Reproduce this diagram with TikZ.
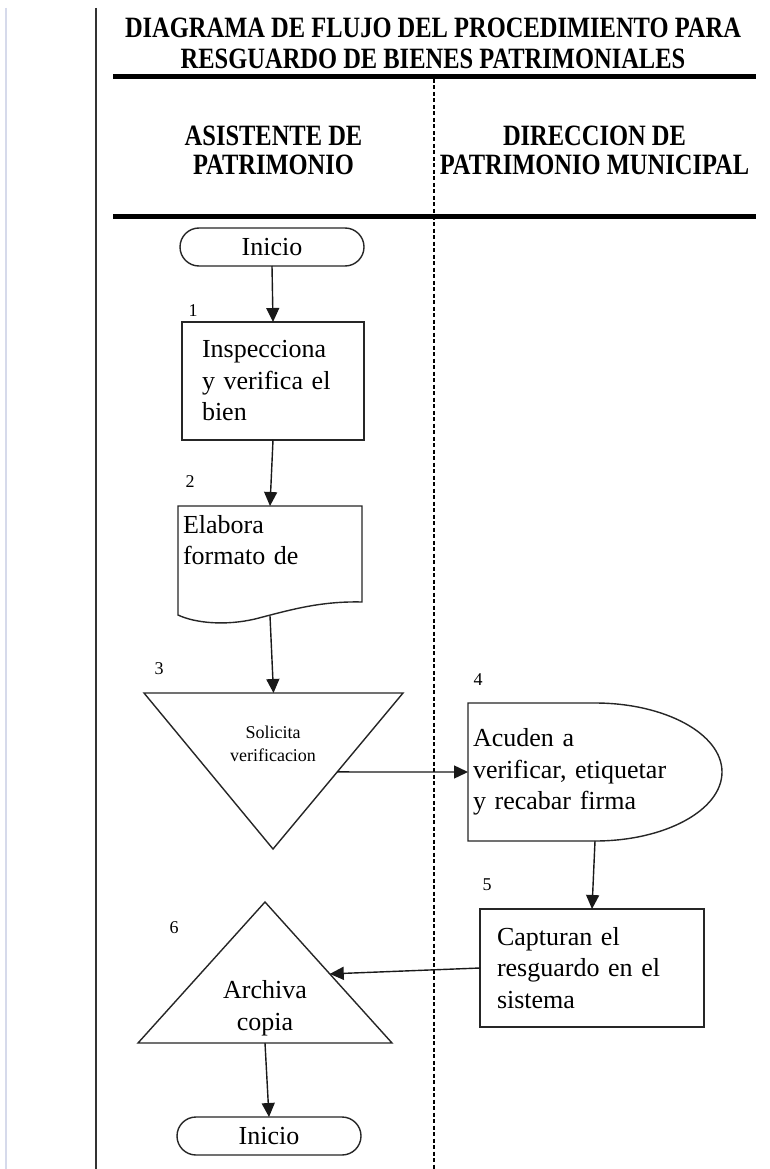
\documentclass[tikz,border=0pt]{standalone}
\usepackage{graphicx}
\usepackage{fontspec}
\setmainfont{Liberation Serif}
\usetikzlibrary{arrows.meta,calc}
% condensed bold lettering for the headings
\newcommand\narrowed[1]{\scalebox{0.83}[1]{#1}}
\begin{document}
\begin{tikzpicture}[x=1pt,y=-1pt,
  every node/.style={inner sep=0pt, outer sep=0pt},
  heading/.style={font=\bfseries\fontsize{29.5}{31}\selectfont, align=center},
  colhead/.style={font=\bfseries\fontsize{29.5}{29}\selectfont, align=center},
  bodytext/.style={font=\fontsize{26}{31.5}\selectfont},
  smalltext/.style={font=\fontsize{18}{23}\selectfont, align=center},
  stepnum/.style={font=\fontsize{18}{18}\selectfont},
  outline/.style={draw=black!85, line width=1.4pt},
  flow/.style={draw=black!90, line width=1.4pt, -{Triangle[length=14pt,width=13pt]}},
  rule/.style={line width=5pt},
  terminal/.style={outline, rounded corners=19pt, minimum width=184pt, minimum height=38pt, bodytext},
  procbox/.style={outline, bodytext, align=left},
]
% page
\fill[white] (0,0) rectangle (770,1169);
\useasboundingbox (0,0) rectangle (770,1169);

% page margin lines
\draw[line width=2pt, draw={rgb,255:red,214;green,218;blue,235}] (6,8) -- (6,1169);
\draw[line width=2pt, draw=black!80] (96,8) -- (96,1169);

% title and lanes
\node[heading] (title) at (433,43.5) {\narrowed{DIAGRAMA DE FLUJO DEL PROCEDIMIENTO PARA}\\\narrowed{RESGUARDO DE BIENES PATRIMONIALES}};
\draw[rule] (113,77) -- (756,77);
\draw[line width=1.1pt, dash pattern=on 4pt off 2.5pt] (434,79) -- (434,1169);
\node[colhead] (lane1) at (273.5,150) {\narrowed{ASISTENTE DE}\\\narrowed{PATRIMONIO}};
\node[colhead] (lane2) at (594.5,150) {\narrowed{DIRECCION DE}\\\narrowed{PATRIMONIO MUNICIPAL}};
\draw[rule] (113,216) -- (756,216);

% start
\node[terminal] (start) at (272,247) {Inicio};

% step 1
\node[stepnum] (n1) at (193,311) {1};
\node[procbox, minimum width=182pt, minimum height=118pt, inner xsep=20pt, text width=142pt] (p1) at (273,381) {Inspecciona\\y verifica el\\bien};

% step 2: document
\node[stepnum] (n2) at (190,482) {2};
\node[bodytext, align=left, inner xsep=5pt, text width=174pt, minimum height=109pt] (p2) at (270,560.5) {Elabora\\formato de\\\strut};
\draw[outline] (178,506) -- (362,506) -- (362,602)
  .. controls (320,601) and (290,610) .. (255,619)
  .. controls (225,626) and (195,623) .. (178,615) -- cycle;
\coordinate (p2out) at (270,616);

% step 3: merge triangle
\node[stepnum] (n3) at (159,669) {3};
\coordinate (t3a) at (144,693);
\coordinate (t3b) at (403,693);
\coordinate (t3c) at (273,849);
\draw[outline] (t3a) -- (t3b) -- (t3c) -- cycle;
\node[smalltext] (t3) at (273,744) {Solicita\\verificacion};

% step 4: delay shape
\node[stepnum] (n4) at (478,680) {4};
\node[bodytext, align=left, inner xsep=5pt, text width=244pt, minimum height=138pt] (p4) at (595,772) {Acuden a\\verificar, etiquetar\\y recabar firma};
\draw[outline] (468,841) -- (468,703) -- (595,703)
  .. controls (665.1,703) and (722,733.9) .. (722,772)
  .. controls (722,810.1) and (665.1,841) .. (595,841) -- cycle;

% step 5
\node[stepnum] (n5) at (487,885) {5};
\node[procbox, minimum width=224pt, minimum height=118pt, inner xsep=17pt, text width=190pt] (p5) at (592,968) {Capturan el\\resguardo en el\\sistema};

% step 6: extract triangle
\node[stepnum] (n6) at (174,928) {6};
\coordinate (t6a) at (265,902);
\coordinate (t6b) at (138,1043);
\coordinate (t6c) at (392,1043);
\draw[outline] (t6a) -- (t6c) -- (t6b) -- cycle;
\node[bodytext, align=center] (t6) at (265,1008) {Archiva\\copia};

% end
\node[terminal] (finish) at (269,1136) {Inicio};

% connectors
\draw[flow] (start.south) -- (p1.north);
\draw[flow] (p1.south) -- (p2.north);
\draw[flow] (p2out) -- ($(t3a)!0.5!(t3b)$);
\draw[flow] ($(t3b)!0.506!(t3c)$) -- (p4.west);
\draw[flow] (p4.south) -- (p5.north);
\draw[flow] (p5.west) -- ($(t6a)!0.51!(t6c)$);
\draw[flow] ($(t6b)!0.5!(t6c)$) -- (finish.north);
\end{tikzpicture}
\end{document}
